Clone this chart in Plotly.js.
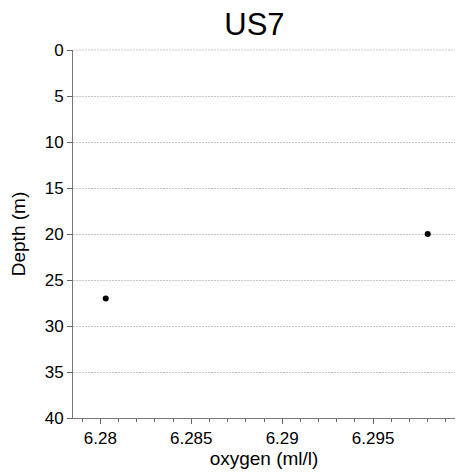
<!DOCTYPE html>
<html>
<head>
<meta charset="utf-8">
<script src="https://cdn.plot.ly/plotly-3.0.1.min.js"></script>
<style>html,body{margin:0;padding:0;background:#fff;}#chart{width:459px;height:474px;}</style>
</head>
<body>
<div id="chart"></div>
<script>
var oxygen = [6.2980, 6.2803];
var depth = [20, 27];
var yTicks = [0, 5, 10, 15, 20, 25, 30, 35, 40];
var xTicks = [6.28, 6.285, 6.29, 6.295];
var xTickLabels = ["6.28", "6.285", "6.29", "6.295"];

var trace = {
  x: oxygen, y: depth, mode: 'markers', type: 'scatter',
  marker: {color: '#000', size: 6}, showlegend: false, hoverinfo: 'x+y'
};
var layout = {
  width: 459, height: 474,
  margin: {l: 73, r: 4, t: 50, b: 56},
  paper_bgcolor: '#fff', plot_bgcolor: '#fff',
  font: {family: 'Liberation Sans, Arial, sans-serif', color: '#000'},
  title: {text: 'US7', font: {size: 31, color: '#000'}, xref: 'paper', x: 0.475, xanchor: 'center', yref: 'container', y: 0.95, yanchor: 'middle'},
  xaxis: {
    range: [6.2785, 6.2995], tickvals: xTicks, ticktext: xTickLabels,
    ticks: 'outside', ticklen: 5, tickcolor: '#666', tickwidth: 1,
    minor: {dtick: 0.001, ticks: 'outside', ticklen: 3, tickcolor: '#666', showgrid: false},
    showline: true, linecolor: '#777', linewidth: 1, showgrid: false, zeroline: false,
    tickfont: {size: 17}, title: {text: 'oxygen (ml/l)', font: {size: 19}, standoff: 0}
  },
  yaxis: {
    range: [40, 0], tickvals: yTicks,
    ticks: 'outside', ticklen: 5, tickcolor: '#666',
    showline: true, linecolor: '#777', linewidth: 1,
    showgrid: true, gridcolor: '#c4c4c4', griddash: '2px,1px', gridwidth: 1, zeroline: false,
    tickfont: {size: 17}, title: {text: 'Depth (m)', font: {size: 19}, standoff: 14}
  },
  shapes: [{type: 'line', xref: 'paper', x0: 0, x1: 1, yref: 'paper', y0: 1, y1: 1,
            line: {color: '#c4c4c4', width: 1, dash: '2px,1px'}, layer: 'below'}]
};
Plotly.newPlot('chart', [trace], layout, {displayModeBar: false, staticPlot: true});
</script>
</body>
</html>
